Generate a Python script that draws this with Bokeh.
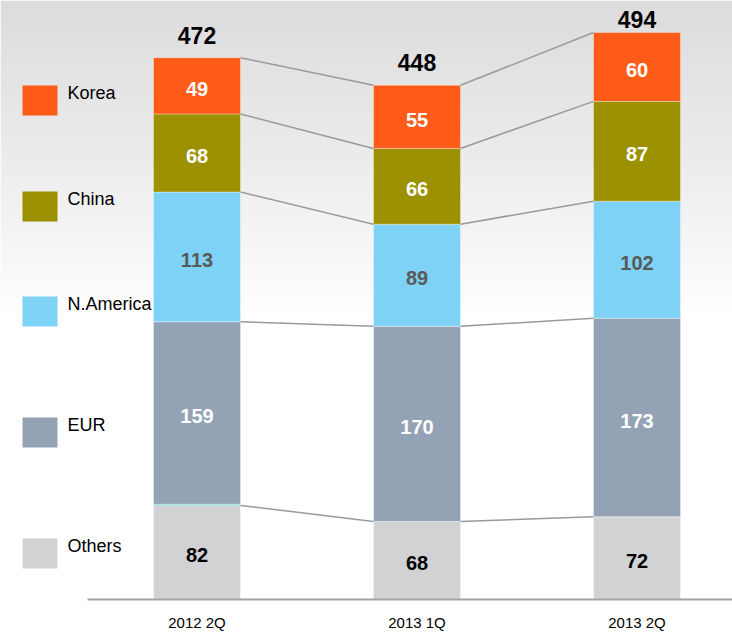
import numpy as np
from bokeh.plotting import figure
from bokeh.models import ColumnDataSource, Range1d
from bokeh.core.properties import value
from bokeh.embed import file_html
from bokeh.resources import INLINE

# ---- data ----
quarters = ["2012 2Q", "2013 1Q", "2013 2Q"]
others = [82, 68, 72]
sliver = [1, 0, 0]
eur = [159, 170, 173]
n_america = [113, 89, 102]
china = [68, 66, 87]
korea = [49, 55, 60]
totals = [472, 448, 494]

# name, values, fill colour, label colour
series = [
    ("Others", others, "#D1D2D4", "#000000"),
    ("", sliver, "#3FCFCF", None),
    ("EUR", eur, "#94A2B5", "#FFFFFF"),
    ("N.America", n_america, "#7DD2F5", "#595959"),
    ("China", china, "#9C9100", "#FFFFFF"),
    ("Korea", korea, "#FF5B19", "#FFFFFF"),
]
legend_order = ["Korea", "China", "N.America", "EUR", "Others"]

FONT = value("Liberation Sans")
W, H = 732, 632
BASE_PX = 599.0          # screen y of the value 0
TOP_PX = 32.0            # screen y of the largest total
KY = (BASE_PX - TOP_PX) / max(totals)   # px per unit
KX = 220.0               # px per category step
X0_PX = 196.5            # screen x of first category

def ydata(py):
    return (BASE_PX - py) / KY

def xdata(px):
    return (px - X0_PX) / KX

x = np.arange(len(quarters))
bar_w = 87.0 / KX

p = figure(width=W, height=H, output_backend="svg", toolbar_location=None,
           x_range=Range1d(xdata(0), xdata(W)), y_range=Range1d(ydata(H), ydata(0)),
           min_border_left=0, min_border_right=0, min_border_top=0, min_border_bottom=0,
           x_axis_location=None, y_axis_location=None)
p.outline_line_color = None
p.xgrid.visible = False
p.ygrid.visible = False
p.background_fill_color = "white"
p.border_fill_color = "white"

# background gradient (light grey at top fading to white)
n = 80
rows = np.zeros((n, 1), dtype=np.uint32)
view = rows.view(dtype=np.uint8).reshape((n, 1, 4))
for i in range(n):
    t = i / (n - 1)  # 0 at bottom, 1 at top
    c = int(round(255 - (255 - 220) * t ** 0.85))
    view[i, 0] = [c, c, c, 255]
g_bot, g_top = ydata(312), ydata(0)
p.image_rgba(image=[rows], x=xdata(0), y=g_bot, dw=xdata(W) - xdata(0), dh=g_top - g_bot,
             level="image")

# stacked bars
bottom = np.zeros(len(quarters))
bounds = [bottom.copy()]
renderers = {}
for name, vals, color, lab_color in series:
    vals = np.array(vals, dtype=float)
    top = bottom + vals
    src = ColumnDataSource(dict(x=x, bottom=bottom.copy(), top=top.copy(),
                                mid=(bottom + top) / 2 - 3.0 / KY,
                                label=[str(int(v)) if v > 0 else "" for v in vals]))
    r = p.vbar(x="x", bottom="bottom", top="top", width=bar_w, source=src,
               fill_color=color, line_color="white", line_alpha=0.35, line_width=1)
    renderers[name] = (r, color)
    if lab_color is not None:
        p.text(x="x", y="mid", text="label", source=src, text_align="center",
               text_baseline="middle", text_font=FONT, text_font_style="bold",
               text_font_size="20px", text_color=lab_color)
    bottom = top
    bounds.append(top.copy())

# connecting lines between bars at segment boundaries
for level in [bounds[1], bounds[3], bounds[4], bounds[5], bounds[6]]:
    p.segment(x0=x[:-1] + bar_w / 2, y0=level[:-1], x1=x[1:] - bar_w / 2, y1=level[1:],
              line_color="#9A9A9A", line_width=1.5)

# totals above bars (the last one sits closer, limited by the top edge)
gap_px = [22.5, 23, 13]
tot_src = ColumnDataSource(dict(x=x, y=[b + g / KY for b, g in zip(bounds[-1], gap_px)],
                                label=[str(t) for t in totals]))
p.text(x="x", y="y", text="label", source=tot_src, text_align="center",
       text_baseline="middle", text_font=FONT, text_font_style="bold",
       text_font_size="23px", text_color="black")

# baseline
p.segment(x0=xdata(87), y0=0, x1=xdata(W), y1=0, line_color="#A3A3A3", line_width=2)

# category labels under the baseline
cat_src = ColumnDataSource(dict(x=x, y=[ydata(BASE_PX + 23)] * len(x), label=quarters))
p.text(x="x", y="y", text="label", source=cat_src, text_align="center",
       text_baseline="middle", text_font=FONT, text_font_size="15px", text_color="black")

# legend (squares + labels at the left)
leg_cy = [100, 206, 311, 432, 553]
leg_src = ColumnDataSource(dict(
    x=[xdata(39.5)] * 5, y=[ydata(c) for c in leg_cy],
    tx=[xdata(67)] * 5, ty=[ydata(c - 7.5) for c in leg_cy],
    color=[renderers[nm][1] for nm in legend_order], label=legend_order))
p.rect(x="x", y="y", width=35, height=30, width_units="screen", height_units="screen",
       fill_color="color", line_color=None, source=leg_src)
p.text(x="tx", y="ty", text="label", source=leg_src, text_align="left",
       text_baseline="middle", text_font=FONT, text_font_size="18px", text_color="black")

open("out.html", "w").write(file_html(p, INLINE))
